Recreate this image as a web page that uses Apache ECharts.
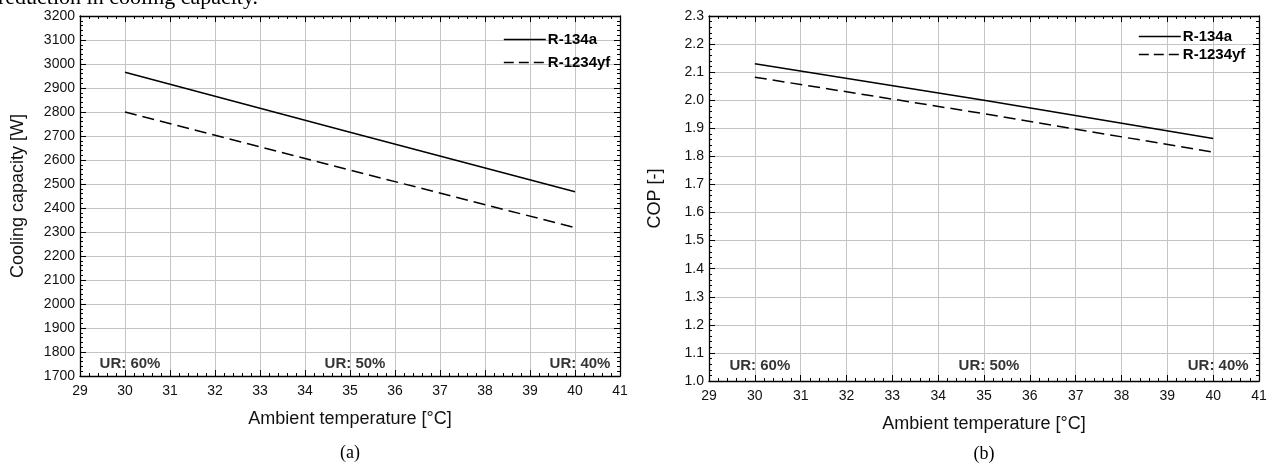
<!DOCTYPE html>
<html>
<head>
<meta charset="utf-8">
<script src="https://cdn.jsdelivr.net/npm/echarts@6/dist/echarts.min.js"></script>
<style>
  html, body { margin: 0; padding: 0; background: #fff; }
  #chart { width: 1274px; height: 465px; }
</style>
</head>
<body>
<div id="chart"></div>
<script>
// Ambient temperatures at which the system was evaluated
const temps = [30, 35, 40];
// Relative humidity at each temperature
const urLabels = ['UR: 60%', 'UR: 50%', 'UR: 40%'];

// (a) Cooling capacity [W]
const capR134a = [2966, 2716, 2468];
const capR1234yf = [2800, 2558, 2318];

// (b) COP [-]
const copR134a = [2.13, 2.0, 1.864];
const copR1234yf = [2.082, 1.952, 1.815];

const refrigerants = ['R-134a', 'R-1234yf'];

const SANS = 'Liberation Sans, Arial, sans-serif';
const SERIF = 'Liberation Serif, Times New Roman, serif';

function pairs(xs, ys) { return xs.map((x, i) => [x, ys[i]]); }

const tickStyle = { show: true, inside: true, length: 6, lineStyle: { color: '#000', width: 1 } };
const minorStyle = { show: true, splitNumber: 5, length: 3, lineStyle: { color: '#000', width: 1 } };
const lineAxis = { show: true, onZero: false, lineStyle: { color: '#000', width: 1.3 } };
const gridLine = { show: true, lineStyle: { color: '#c4c4c4', width: 1 } };
const labelStyle = { color: '#111', fontFamily: SANS, fontSize: 14 };
const nameStyle = { color: '#111', fontFamily: SANS, fontSize: 18 };

function xAxesFor(gi) {
  return [
    {
      type: 'value', gridIndex: gi, position: 'bottom', min: 29, max: 41, interval: 1,
      name: 'Ambient temperature [°C]', nameLocation: 'middle', nameGap: 34,
      nameTextStyle: nameStyle,
      axisLine: lineAxis, axisTick: tickStyle, minorTick: minorStyle,
      axisLabel: Object.assign({ margin: 8 }, labelStyle), splitLine: gridLine
    },
    {
      type: 'value', gridIndex: gi, position: 'top', min: 29, max: 41, interval: 1,
      axisLine: lineAxis, axisTick: tickStyle, minorTick: minorStyle,
      axisLabel: { show: false }, splitLine: { show: false }
    }
  ];
}

function yAxesFor(gi, min, max, interval, name, nameGap, fmt) {
  return [
    {
      type: 'value', gridIndex: gi, position: 'left', min: min, max: max, interval: interval,
      name: name, nameLocation: 'middle', nameGap: nameGap,
      nameTextStyle: nameStyle,
      axisLine: lineAxis, axisTick: tickStyle, minorTick: minorStyle,
      axisLabel: Object.assign({ margin: 5, formatter: fmt }, labelStyle), splitLine: gridLine
    },
    {
      type: 'value', gridIndex: gi, position: 'right', min: min, max: max, interval: interval,
      axisLine: lineAxis, axisTick: tickStyle, minorTick: minorStyle,
      axisLabel: { show: false }, splitLine: { show: false }
    }
  ];
}

function lineSeries(name, axisBase, ys, dashed) {
  return {
    name: name, type: 'line', xAxisIndex: axisBase, yAxisIndex: axisBase,
    data: pairs(temps, ys), symbol: 'none', silent: true,
    lineStyle: { color: '#000', width: 1.5, type: dashed ? [12, 6] : 'solid' },
    itemStyle: { color: '#000' }
  };
}

function humiditySeries(axisBase, yPos) {
  return {
    type: 'scatter', xAxisIndex: axisBase, yAxisIndex: axisBase, silent: true,
    symbolSize: 0,
    data: temps.map((t, i) => ({ value: [t, yPos], name: urLabels[i] })),
    label: {
      show: true, position: 'inside', formatter: p => p.name,
      color: '#000', fontFamily: SANS, fontSize: 15, fontWeight: 'bold', offset: [5, 0]
    }
  };
}

// Legend keys are plain line samples (no marker)
function legendFor(left, top, gap) {
  return {
    orient: 'vertical', left: left, top: top, itemGap: gap, padding: 0,
    itemWidth: 42, itemHeight: 14, selectedMode: false,
    itemStyle: { color: 'rgba(0,0,0,0)', borderWidth: 0, opacity: 0 },
    data: [
      { name: refrigerants[0], lineStyle: { type: 'solid', width: 1.6 } },
      { name: refrigerants[1], lineStyle: { type: [10, 5], width: 1.6 } }
    ],
    textStyle: { color: '#000', fontFamily: SANS, fontSize: 15, fontWeight: 'bold', padding: [0, 0, 0, -3] }
  };
}

const option = {
  backgroundColor: '#fff',
  animation: false,
  grid: [
    { left: 80, top: 16, width: 540, height: 360 },
    { left: 709, top: 16, width: 550, height: 365 }
  ],
  legend: [legendFor(503, 32, 8), legendFor(1138, 29, 3)],
  xAxis: xAxesFor(0).concat(xAxesFor(1)),
  yAxis: yAxesFor(0, 1700, 3200, 100, 'Cooling capacity [W]', 53, v => String(v))
    .concat(yAxesFor(1, 1.0, 2.3, 0.1, 'COP [-]', 45, v => v.toFixed(1))),
  series: [
    lineSeries(refrigerants[0], 0, capR134a, false),
    lineSeries(refrigerants[1], 0, capR1234yf, true),
    humiditySeries(0, 1750),
    lineSeries(refrigerants[0], 2, copR134a, false),
    lineSeries(refrigerants[1], 2, copR1234yf, true),
    humiditySeries(2, 1.055)
  ],
  graphic: [
    { type: 'text', left: -2, top: -13, silent: true,
      style: { text: 'reduction in cooling capacity.', fontFamily: SERIF, fontSize: 22, fill: '#000' } },
    { type: 'text', x: 350, y: 453, silent: true,
      style: { text: '(a)', fontFamily: SERIF, fontSize: 18, fill: '#000', align: 'center', verticalAlign: 'middle' } },
    { type: 'text', x: 984, y: 454, silent: true,
      style: { text: '(b)', fontFamily: SERIF, fontSize: 18, fill: '#000', align: 'center', verticalAlign: 'middle' } }
  ]
};

const chart = echarts.init(document.getElementById('chart'), null, { renderer: 'canvas' });
chart.setOption(option);
</script>
</body>
</html>
